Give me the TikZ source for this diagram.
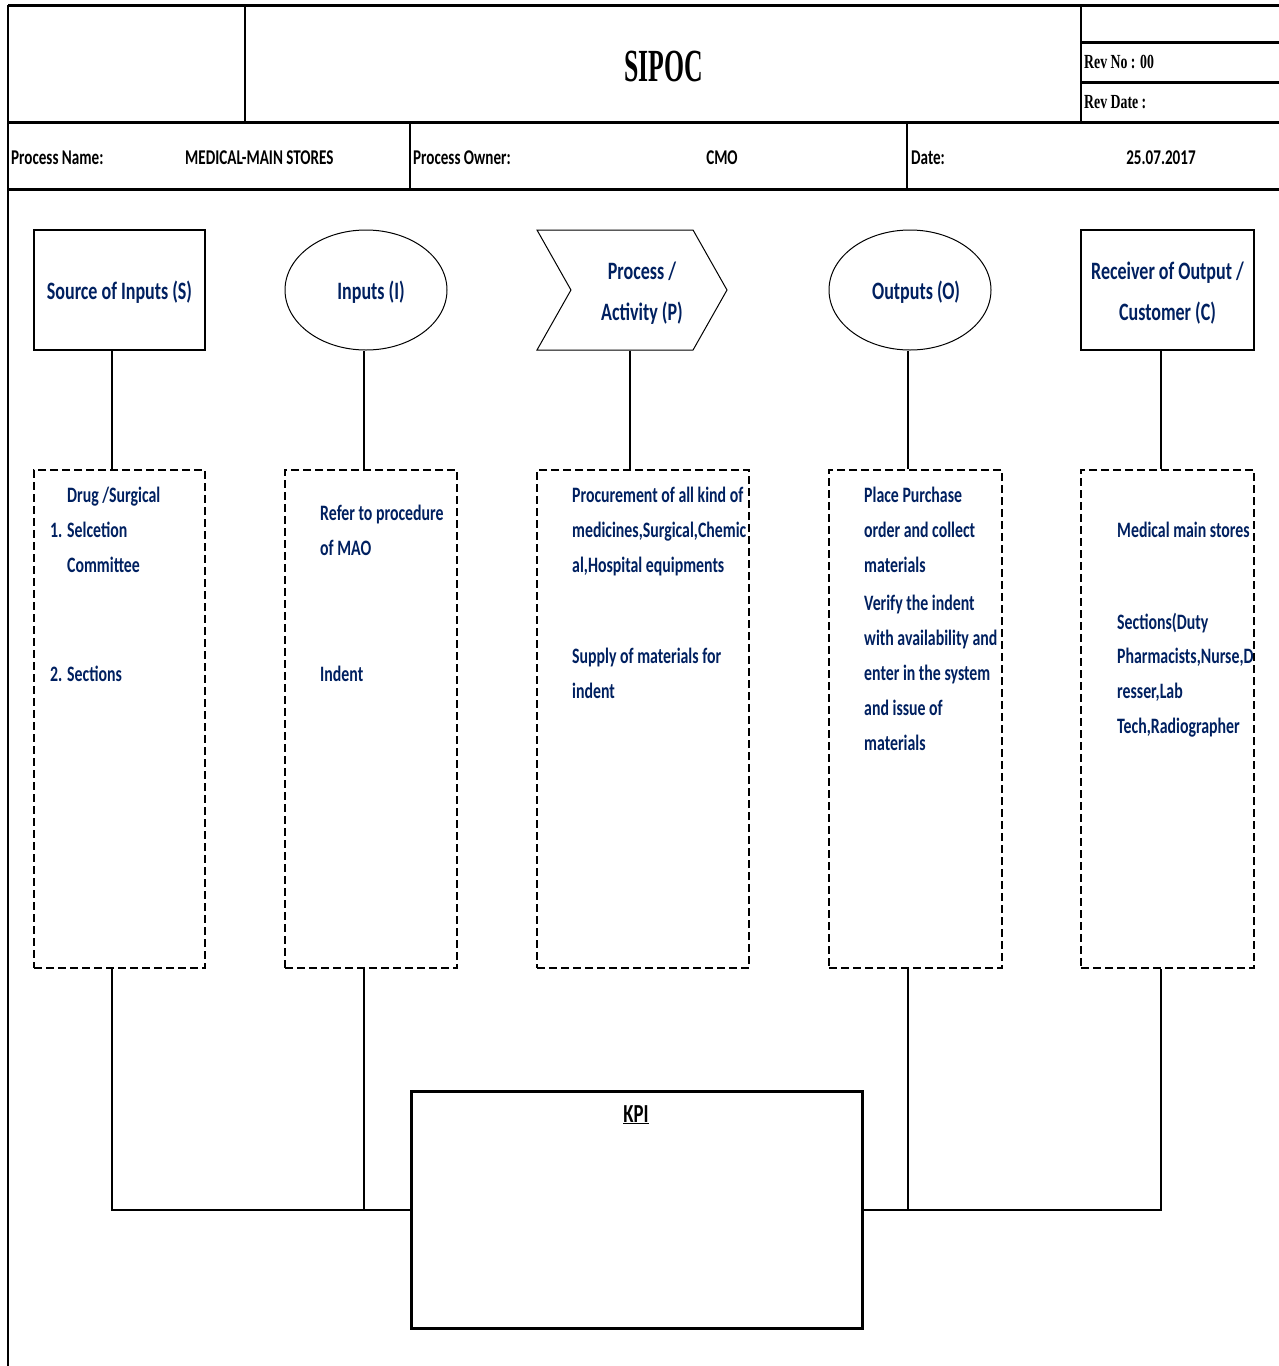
\documentclass[tikz,border=0pt]{standalone}
\usepackage{fontspec}
\setmainfont{Carlito}[FakeStretch=0.72]
\newfontfamily\titlefont{Liberation Serif}[FakeStretch=0.56]
\newfontfamily\revfont{Liberation Serif}[FakeStretch=0.69]
\usetikzlibrary{shapes.geometric,shapes.symbols}
\definecolor{navy}{RGB}{0,32,96}
\tikzset{
  hdr/.style={line width=3pt},
  bt/.style={text=navy,font=\fontsize{22}{26}\selectfont\bfseries,anchor=base west,inner sep=0pt},
  ht/.style={text=black,font=\fontsize{21}{25}\selectfont\bfseries,inner sep=0pt},
  shp/.style={text=navy,font=\fontsize{25}{41}\selectfont\bfseries,align=center,inner sep=0pt},
  dbox/.style={draw,line width=2pt,dash pattern=on 8pt off 4pt,inner sep=0pt},
  conn/.style={line width=2pt}
}
\begin{document}
\begin{tikzpicture}[x=1pt,y=-1pt]
\useasboundingbox (0,0) rectangle (1279,1366);
% header frame
\draw[line width=1.5pt] (8,5) -- (8,1366);
\draw[hdr] (8,5) -- (1279,5);
\draw[hdr] (8,122) -- (1279,122);
\draw[hdr] (8,189) -- (1279,189);
\draw[line width=2pt] (245,5) -- (245,122);
\draw[line width=2pt] (1081,5) -- (1081,122);
\draw[hdr] (1081,42) -- (1279,42);
\draw[hdr] (1081,82) -- (1279,82);
\draw[line width=2pt] (410,122) -- (410,189);
\draw[line width=2pt] (907,122) -- (907,189);
\node[inner sep=0pt,font=\titlefont\fontsize{46}{50}\selectfont\bfseries] (title) at (664,66) {SIPOC};
\node[inner sep=0pt,anchor=base west,font=\revfont\fontsize{20}{24}\selectfont\bfseries] (revno) at (1084,68) {Rev No : 00};
\node[inner sep=0pt,anchor=base west,font=\revfont\fontsize{20}{24}\selectfont\bfseries] (revdate) at (1084,108) {Rev Date :};
\node[ht,anchor=base west] (pn) at (11,164) {Process Name:};
\node[ht,anchor=base west] (pnv) at (185,164) {MEDICAL-MAIN STORES};
\node[ht,anchor=base west] (po) at (413,164) {Process Owner:};
\node[ht,anchor=base] (pov) at (722,164) {CMO};
\node[ht,anchor=base west] (dt) at (911,164) {Date:};
\node[ht,anchor=base] (dtv) at (1161,164) {25.07.2017};
% top shapes
\node[draw,line width=2pt,minimum width=171pt,minimum height=120pt] (S) at (119.5,290) {};
\node[draw,line width=1pt,ellipse,minimum width=162pt,minimum height=120pt] (I) at (366,290) {};
\node[draw,line width=1pt,signal,signal to=east,signal from=west,signal pointer angle=121,minimum width=190pt,minimum height=120pt,inner sep=0pt] (P) at (632,290) {};
\node[draw,line width=1pt,ellipse,minimum width=162pt,minimum height=120pt] (O) at (910,290) {};
\node[draw,line width=2pt,minimum width=173pt,minimum height=120pt] (C) at (1167.5,290) {};
\node[shp] (St) at (119.5,292) {Source of Inputs (S)};
\node[shp] (It) at (371,292) {Inputs (I)};
\node[shp] (Pt) at (642,293) {Process /\\Activity (P)};
\node[shp] (Ot) at (916,292) {Outputs (O)};
\node[shp] (Ct) at (1167.5,293) {Receiver of Output /\\Customer (C)};
% dashed boxes
\node[dbox,minimum width=171pt,minimum height=498pt] (d1) at (119.5,719) {};
\node[dbox,minimum width=172pt,minimum height=498pt] (d2) at (371,719) {};
\node[dbox,minimum width=212pt,minimum height=498pt] (d3) at (643,719) {};
\node[dbox,minimum width=173pt,minimum height=498pt] (d4) at (915.5,719) {};
\node[dbox,minimum width=173pt,minimum height=498pt] (d5) at (1167.5,719) {};
% KPI box
\node[draw,line width=3pt,minimum width=451pt,minimum height=237pt] (K) at (636.5,1209.5) {};
\node[inner sep=0pt,anchor=base,font=\fontsize{26}{30}\selectfont\bfseries] (Kt) at (636,1122) {\underline{KPI}};
% connector columns
\coordinate (c1) at (112,0);
\coordinate (c2) at (364,0);
\coordinate (c3) at (630,0);
\coordinate (c4) at (908,0);
\coordinate (c5) at (1161,0);
\draw[conn] (S.south -| c1) -- (d1.north -| c1);
\draw[conn] (I.south -| c2) -- (d2.north -| c2);
\draw[conn] (P.south -| c3) -- (d3.north -| c3);
\draw[conn] (O.south -| c4) -- (d4.north -| c4);
\draw[conn] (C.south -| c5) -- (d5.north -| c5);
\draw[conn] (d1.south -| c1) |- (K.west);
\draw[conn] (d2.south -| c2) -- (c2 |- K.west);
\draw[conn] (d5.south -| c5) |- (K.east);
\draw[conn] (d4.south -| c4) -- (c4 |- K.east);
% box texts
\node[bt] (a1) at (67,502) {Drug /Surgical};
\node[bt] (a2n) at (50,537) {1.};
\node[bt] (a2) at (67,537) {Selcetion};
\node[bt] (a3) at (67,572) {Committee};
\node[bt] (a4n) at (50,681) {2.};
\node[bt] (a4) at (67,681) {Sections};
\node[bt] (b1) at (320,520) {Refer to procedure};
\node[bt] (b2) at (320,555) {of MAO};
\node[bt] (b3) at (320,681) {Indent};
\node[bt] (p1) at (572,502) {Procurement of all kind of};
\node[bt] (p2) at (572,537) {medicines,Surgical,Chemic};
\node[bt] (p3) at (572,572) {al,Hospital equipments};
\node[bt] (p4) at (572,663) {Supply of materials for};
\node[bt] (p5) at (572,698) {indent};
\node[bt] (o1) at (864,502) {Place Purchase};
\node[bt] (o2) at (864,537) {order and collect};
\node[bt] (o3) at (864,572) {materials};
\node[bt] (o4) at (864,610) {Verify the indent};
\node[bt] (o5) at (864,645) {with availability and};
\node[bt] (o6) at (864,680) {enter in the system};
\node[bt] (o7) at (864,715) {and issue of};
\node[bt] (o8) at (864,750) {materials};
\node[bt] (r1) at (1117,537) {Medical main stores};
\node[bt] (r2) at (1117,629) {Sections(Duty};
\node[bt] (r3) at (1117,663) {Pharmacists,Nurse,D};
\node[bt] (r4) at (1117,698) {resser,Lab};
\node[bt] (r5) at (1117,733) {Tech,Radiographer};
\end{tikzpicture}
\end{document}
